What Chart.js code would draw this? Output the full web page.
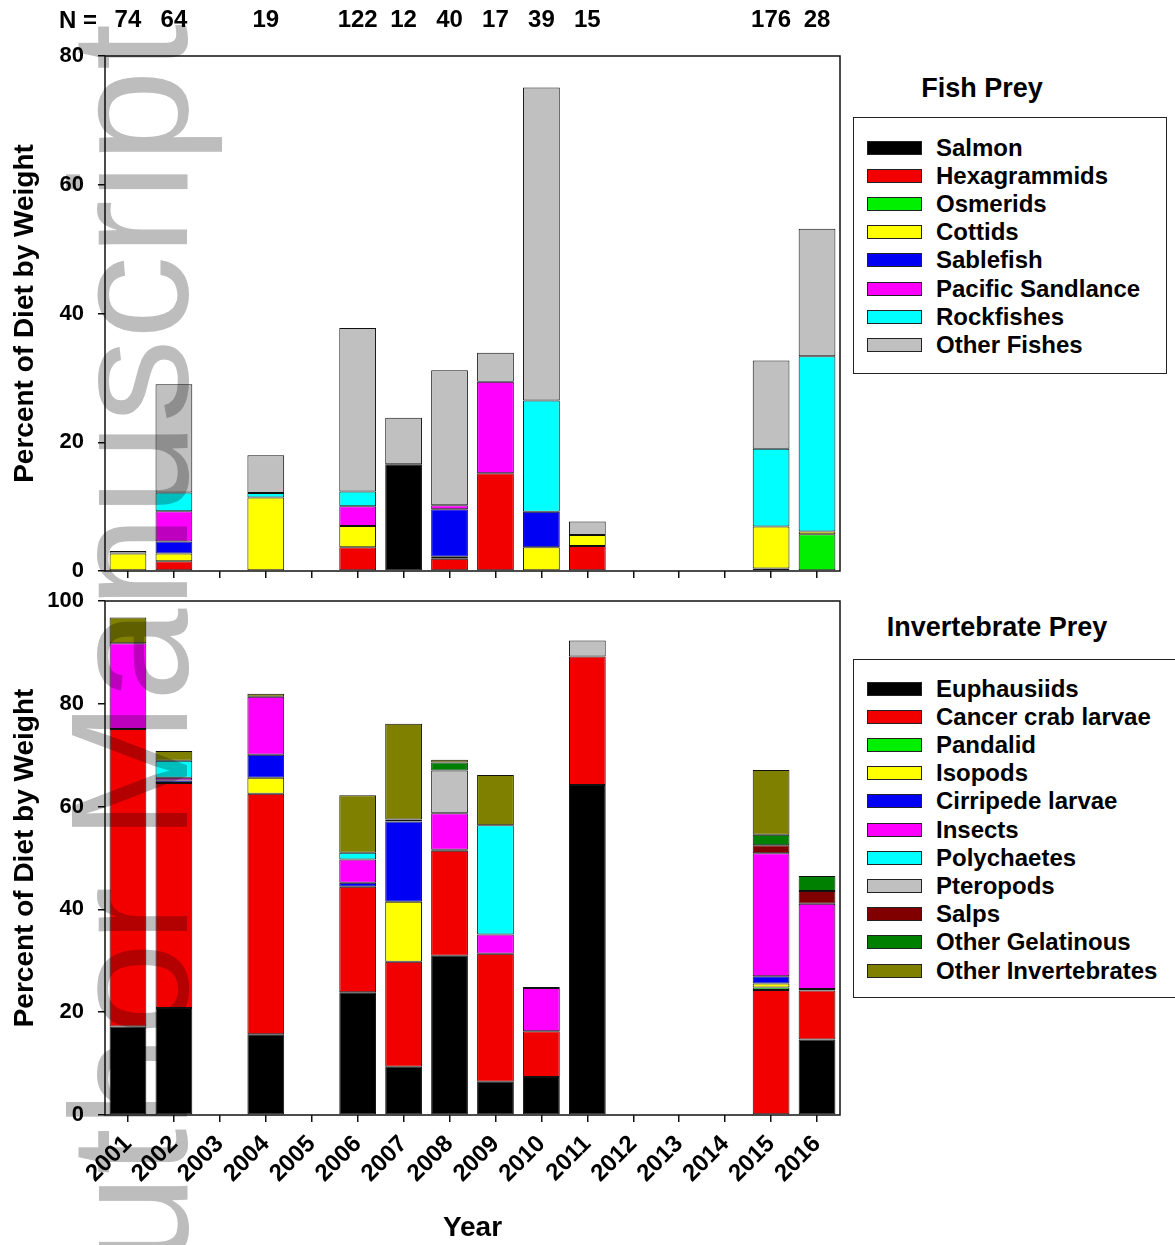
<!DOCTYPE html>
<html>
<head>
<meta charset="utf-8">
<script src="https://cdn.jsdelivr.net/npm/chart.js@4.4.1/dist/chart.umd.min.js"></script>
<style>
  html, body { margin: 0; padding: 0; background: #fff; }
  body {
    width: 1175px; height: 1245px; position: relative; overflow: hidden;
    font-family: 'Liberation Sans', Arial, sans-serif; font-weight: bold; color: #000;
  }
  canvas { position: absolute; left: 0; }
  #fishCanvas { top: 0; }
  #invCanvas  { top: 585px; }
  .ttl { position: absolute; font-size: 27px; transform: translate(-50%, -50%); white-space: nowrap; }
  .legend { position: absolute; border: 1.5px solid #222; box-sizing: border-box; }
  .row { position: absolute; left: 0; height: 28px; width: 100%; }
  .sw  { position: absolute; left: 13px; top: 7px; width: 55px; height: 14px; border: 1px solid #222; box-sizing: border-box; }
  .lbl { position: absolute; left: 82px; top: 0; font-size: 24px; line-height: 28px; white-space: nowrap; }
  #nEq { position: absolute; left: 59px; top: 6px; font-size: 24px; line-height: 28px; }
  #wm {
    position: absolute; left: 46px; top: 1379px;
    font: normal 167px/1 'Liberation Sans', Arial, sans-serif;
    color: #bdbdbd; mix-blend-mode: multiply; white-space: nowrap;
    transform-origin: 0 0; transform: rotate(-90deg);
  }
</style>
</head>
<body>
<canvas id="fishCanvas" width="850" height="585"></canvas>
<canvas id="invCanvas" width="850" height="660"></canvas>
<div id="nEq">N =</div>
<div class="ttl" style="left:982px; top:88px;">Fish Prey</div>
<div class="ttl" style="left:997px; top:627px;">Invertebrate Prey</div>
<div class="legend" id="fishLegend" style="left:853px; top:117px; width:314px; height:257px;"></div>
<div class="legend" id="invLegend" style="left:853px; top:659px; width:340px; height:339px;"></div>
<div id="wm">Author Manuscript</div>

<script>
// ── data ────────────────────────────────────────────────────────────────
const years   = ['2001','2002','2003','2004','2005','2006','2007','2008',
                 '2009','2010','2011','2012','2013','2014','2015','2016'];
const sampleN = ['74','64','','19','','122','12','40','17','39','15','','','','176','28'];

// fish prey, % of diet by weight
const salmon       = [0,   0,   0, 0,    0, 0,    16.6, 0,    0,    0,    0,   0, 0, 0, 0,    0];
const hexagrammids = [0,   1.5, 0, 0,    0, 3.7,  0,    1.9,  15.2, 0,    3.9, 0, 0, 0, 0,    0];
const osmerids     = [0,   0,   0, 0,    0, 0,    0,    0.3,  0,    0,    0,   0, 0, 0, 0.4,  5.7];
const cottids      = [2.7, 1.2, 0, 11.4, 0, 3.3,  0,    0,    0,    3.7,  1.7, 0, 0, 0, 6.5,  0.45];
const sablefish    = [0,   1.9, 0, 0,    0, 0,    0,    7.4,  0,    5.5,  0,   0, 0, 0, 0,    0];
const sandlance    = [0,   4.7, 0, 0,    0, 3.05, 0,    0.6,  14.2, 0,    0,   0, 0, 0, 0,    0];
const rockfishes   = [0,   2.9, 0, 0.7,  0, 2.3,  0,    0,    0,    17.3, 0,   0, 0, 0, 12.1, 27.2];
const otherFishes  = [0.4, 16.8,0, 5.9,  0, 25.4, 7.2,  21.0, 4.5,  48.6, 2.1, 0, 0, 0, 13.7, 19.8];

// invertebrate prey, % of diet by weight
const euphausiids  = [17.2, 20.8, 0, 15.7, 0, 23.9, 9.4,  31.0, 6.45,  7.4, 64.2, 0, 0, 0, 0,    14.7];
const crabLarvae   = [57.9, 43.8, 0, 46.8, 0, 20.5, 20.4, 20.4, 24.9,  8.9, 25.0, 0, 0, 0, 24.3, 9.5];
const pandalid     = [0,    0,    0, 0,    0, 0,    0,    0,    0,     0,   0,    0, 0, 0, 0.5,  0];
const isopods      = [0,    0,    0, 3.1,  0, 0,    11.7, 0,    0,     0,   0,    0, 0, 0, 0.8,  0];
const cirripede    = [0,    0.5,  0, 4.5,  0, 0.8,  15.6, 0.2,  0,     0,   0,    0, 0, 0, 1.4,  0.3];
const insects      = [16.7, 0.5,  0, 11.25,0, 4.5,  0.4,  7.1,  3.75,  8.4, 0,    0, 0, 0, 23.9, 16.6];
const polychaetes  = [0,    3.3,  0, 0,    0, 1.3,  0,    0,    21.25, 0,   0,    0, 0, 0, 0,    0];
const pteropods    = [0,    0,    0, 0,    0, 0,    0,    8.3,  0,     0,   3.1,  0, 0, 0, 0,    0];
const salps        = [0,    0,    0, 0,    0, 0,    0,    0,    0,     0,   0,    0, 0, 0, 1.6,  2.5];
const otherGel     = [0,    0,    0, 0,    0, 0,    0,    1.6,  0,     0,   0,    0, 0, 0, 2.0,  2.9];
const otherInv     = [5.0,  1.9,  0, 0.6,  0, 11.2, 18.6, 0.5,  9.8,   0.2, 0,    0, 0, 0, 12.6, 0];

const fishNames  = ['Salmon','Hexagrammids','Osmerids','Cottids','Sablefish',
                    'Pacific Sandlance','Rockfishes','Other Fishes'];
const fishColors = ['#000000','#F20000','#00F000','#FFFF00','#0000F5','#FF00FF','#00FFFF','#C0C0C0'];
const fishSeries = [salmon, hexagrammids, osmerids, cottids, sablefish, sandlance, rockfishes, otherFishes];

const invNames  = ['Euphausiids','Cancer crab larvae','Pandalid','Isopods','Cirripede larvae',
                   'Insects','Polychaetes','Pteropods','Salps','Other Gelatinous','Other Invertebrates'];
const invColors = ['#000000','#F20000','#00F000','#FFFF00','#0000F5','#FF00FF','#00FFFF',
                   '#C0C0C0','#800000','#008000','#808000'];
const invSeries = [euphausiids, crabLarvae, pandalid, isopods, cirripede, insects,
                   polychaetes, pteropods, salps, otherGel, otherInv];

// ── chart setup ─────────────────────────────────────────────────────────
const FONT = "'Liberation Sans', Arial, sans-serif";
Chart.defaults.font.family = FONT;
Chart.defaults.font.weight = 'bold';
Chart.defaults.color = '#000';

const framePlugin = {
  id: 'frame',
  afterDatasetsDraw(chart) {
    const { ctx, chartArea: a } = chart;
    ctx.save();
    ctx.strokeStyle = '#111';
    ctx.lineWidth = 1.5;
    ctx.strokeRect(a.left, a.top, a.right - a.left, a.bottom - a.top);
    ctx.restore();
  },
};

function stackDS(names, colors, series) {
  return names.map((name, i) => ({
    label: name,
    data: series[i],
    backgroundColor: colors[i],
    borderColor: '#111',
    borderWidth: 1,
    borderSkipped: false,
    barPercentage: 1.0,
    categoryPercentage: 0.8,
  }));
}

function yAxis(max) {
  return {
    stacked: true, min: 0, max,
    ticks: { stepSize: 20, padding: 14, color: '#000', font: { size: 22, weight: 'bold' } },
    grid: { drawOnChartArea: false, drawTicks: true, tickLength: 7, color: '#111', lineWidth: 1.5 },
    border: { display: false },
    title: {
      display: true, text: 'Percent of Diet by Weight', color: '#000',
      font: { size: 28, weight: 'bold' }, padding: { top: 8, bottom: 0 },
    },
    // fixed width, and no extra room reserved for the end labels
    afterFit: s => { s.width = 105; s.paddingTop = 0; s.paddingBottom = 0; },
  };
}

const xGrid = { offset: false, drawOnChartArea: false, drawTicks: true, tickLength: 7, color: '#111', lineWidth: 1.5 };

function baseOpts() {
  return {
    responsive: false,
    animation: false,
    events: [],
    plugins: { legend: { display: false }, tooltip: { enabled: false } },
  };
}

// fish prey panel (top)
new Chart(document.getElementById('fishCanvas'), {
  type: 'bar',
  data: { labels: years, datasets: stackDS(fishNames, fishColors, fishSeries) },
  options: Object.assign(baseOpts(), {
    layout: { padding: { left: 0, right: 10, top: 0, bottom: 0 } },
    scales: {
      x: {
        stacked: true, offset: true,
        grid: xGrid, border: { display: false },
        ticks: { display: false },
        afterFit: s => { s.height = 14; },
      },
      xN: {
        type: 'category', labels: sampleN, position: 'top', offset: true,
        grid: { display: false }, border: { display: false },
        ticks: { autoSkip: false, maxRotation: 0, padding: 13, color: '#000', font: { size: 24, weight: 'bold' } },
        afterFit: s => { s.height = 56; },
      },
      y: yAxis(80),
    },
  }),
  plugins: [framePlugin],
});

// invertebrate prey panel (bottom)
new Chart(document.getElementById('invCanvas'), {
  type: 'bar',
  data: { labels: years, datasets: stackDS(invNames, invColors, invSeries) },
  options: Object.assign(baseOpts(), {
    layout: { padding: { left: 0, right: 10, top: 16, bottom: 0 } },
    scales: {
      x: {
        stacked: true, offset: true,
        grid: xGrid, border: { display: false },
        ticks: { autoSkip: false, maxRotation: 45, minRotation: 45, padding: 8, color: '#000',
                 font: { size: 24, weight: 'bold' } },
        title: { display: true, text: 'Year', color: '#000', font: { size: 28, weight: 'bold' },
                 padding: { top: 0, bottom: 0 } },
        afterFit: s => { s.height = 130; },
      },
      y: yAxis(100),
    },
  }),
  plugins: [framePlugin],
});

// ── legends ─────────────────────────────────────────────────────────────
function buildLegend(id, names, colors, firstRowTop) {
  const box = document.getElementById(id);
  names.forEach((name, i) => {
    const row = document.createElement('div');
    row.className = 'row';
    row.style.top = (firstRowTop + i * 28.2) + 'px';
    const sw = document.createElement('span');
    sw.className = 'sw';
    sw.style.background = colors[i];
    const lbl = document.createElement('span');
    lbl.className = 'lbl';
    lbl.textContent = name;
    row.appendChild(sw);
    row.appendChild(lbl);
    box.appendChild(row);
  });
}
buildLegend('fishLegend', fishNames, fishColors, 15.5);
buildLegend('invLegend', invNames, invColors, 14.5);
</script>
</body>
</html>
